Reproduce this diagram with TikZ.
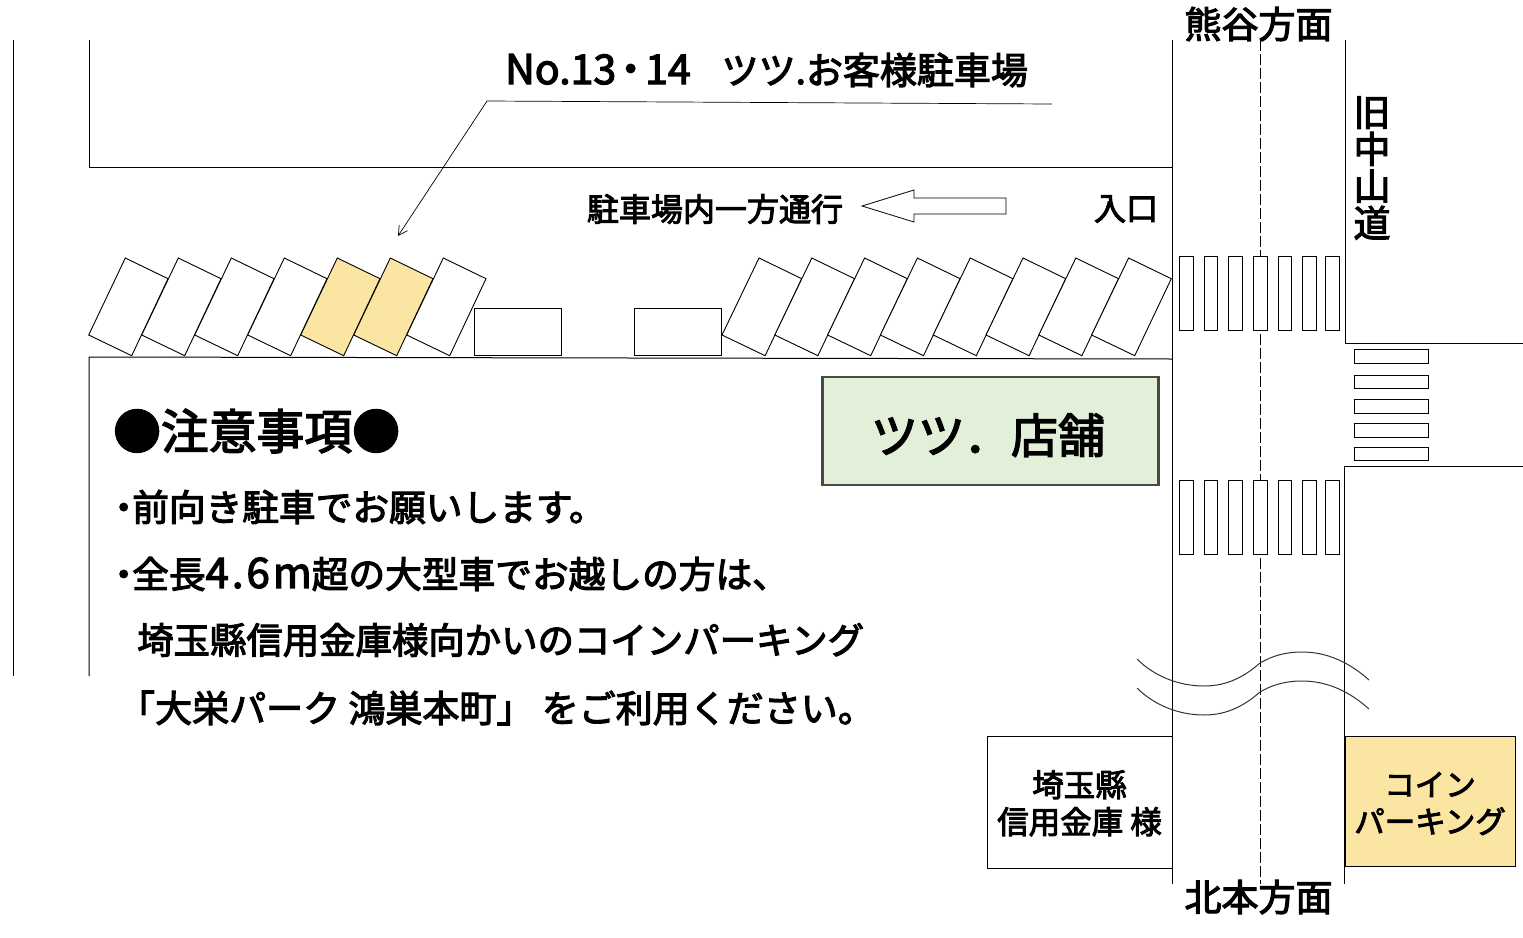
\documentclass[tikz,border=0pt]{standalone}
\usepackage{xcolor}
\usepackage{fontspec}
\usetikzlibrary{arrows.meta,positioning}
\setmainfont[FakeBold=3]{Noto Sans CJK JP}
\definecolor{stallyellow}{RGB}{251,229,163}
\definecolor{shopgreen}{RGB}{226,240,217}
\definecolor{shopedge}{RGB}{70,75,70}
\newcommand{\narrowdot}[1]{\makebox[#1]{・}}
\begin{document}
\begin{tikzpicture}[
    x=1pt, y=-1pt,
    line/.style={line width=1pt, black},
    stall/.style={line width=0.9pt, draw=black, fill=white},
    bar/.style={line width=0.9pt, draw=black, fill=white},
    label/.style={inner sep=0pt, anchor=center, align=center, font=\fontsize{32}{37}\selectfont},
    note/.style={inner sep=0pt, anchor=west, font=\fontsize{36.7}{40}\selectfont}
]
\useasboundingbox (0,0) rectangle (1523,937);

% road and lot outlines
\draw[line] (13,40) -- (13,676);
\draw[line] (89,40) -- (89,167) -- (1172,167);
\draw[line] (89,676) -- (89,357) -- (1172,359);
\draw[line] (1172,40) -- (1172,884);
\draw[line] (1345,40) -- (1345,343) -- (1523,343);
\draw[line] (1523,466) -- (1344,466) -- (1344,884);
\draw[line, dashed, dash pattern=on 11pt off 3pt] (1260,40) -- (1260,884);

% parking stalls
\foreach \i in {0,...,6} {
  \ifnum\i=4 \def\stallfill{stallyellow}\else\ifnum\i=5 \def\stallfill{stallyellow}\else\def\stallfill{white}\fi\fi
  \draw[stall, fill=\stallfill, shift={(53*\i,0)}] (125.3,258) -- (168,278.7) -- (131.7,355.7) -- (88.7,335) -- cycle;
}
\foreach \i in {0,...,7}
  \draw[stall, shift={(52.8*\i,0)}] (759,258) -- (801.7,278.7) -- (765.1,355.7) -- (722,335) -- cycle;
\draw[stall, line width=0.7pt] (474,308) rectangle (561,355);
\draw[stall, line width=0.7pt] (634,308) rectangle (721,355);

% crossings
\foreach \xa/\xb in {1179.5/1193.5,1204.5/1217.5,1228.5/1242.5,1253.5/1267.5,1278.5/1291.5,1302.5/1316.5,1325.5/1339.5} {
  \draw[bar] (\xa,256.5) rectangle (\xb,330.5);
  \draw[bar] (\xa,480.5) rectangle (\xb,554.5);
}
\foreach \ya/\yb in {349.5/363.5,375.5/388.5,399.5/413.5,423.5/437.5,447.5/460.5}
  \draw[bar] (1354.5,\ya) rectangle (1428.5,\yb);

% wave breaks
\foreach \d in {0,29}
  \draw[line width=1pt, black!80, shift={(0,\d)}] (1137,659) .. controls (1155,677) and (1180,686) .. (1204,686)
    .. controls (1228,686) and (1245,676) .. (1260,663) .. controls (1272,656) and (1285,652) .. (1302,652)
    .. controls (1328,652) and (1350,663) .. (1369,680);

% one-way arrow
\draw[line width=0.8pt] (862,206) -- (914,190) -- (914,198) -- (1006,198) -- (1006,214) -- (914,214) -- (914,222) -- cycle;

% boxes
\node[draw=shopedge, line width=2.6pt, fill=shopgreen, inner sep=0pt, minimum width=336pt, minimum height=108pt,
      text height=44pt, text depth=0pt, font=\fontsize{47}{52}\selectfont] (shop) at (990.5,431) {\hspace{-5pt}ツツ．店舗};
\node[draw=black, line width=1pt, fill=white, inner sep=0pt, minimum width=185pt, minimum height=132pt, align=center,
      font=\fontsize{31.5}{37}\selectfont] (bank) at (1079.5,802) {\rule{0pt}{29pt}埼玉縣\\信用金庫 様};
\node[draw=black, line width=1pt, fill=stallyellow, inner sep=0pt, minimum width=170pt, minimum height=130pt, align=center,
      font=\fontsize{30.5}{37}\selectfont] (coin) at (1430,801) {\rule{0pt}{29pt}コイン\\パーキング};

% leader
\coordinate (leadstart) at (1052,104);
\coordinate (leadbend) at (487,101);
\coordinate (leadend) at (398,236);
\draw[line width=0.7pt, -{Straight Barb[length=9pt,width=10pt]}] (leadstart) -- (leadbend) -- (leadend);

% labels
\node[label, anchor=west, font=\fontsize{37}{44}\selectfont] (lotname) at (505,70) {{\fontsize{41}{44}\selectfont No.13\narrowdot{29pt}14}\hspace{31pt}ツツ.お客様駐車場};
\node[label] (oneway) at (715,209) {駐車場内一方通行};
\node[label] (entry) at (1126,209) {入口};
\node[label, font=\fontsize{37}{42}\selectfont] (north) at (1258.5,24) {熊谷方面};
\node[label, font=\fontsize{37}{42}\selectfont] (south) at (1258.5,897) {北本方面};
\node[label, font=\fontsize{37}{37}\selectfont] (oldroad) at (1372,168) {旧\\中\\山\\道};

\node[note, font=\fontsize{47.8}{52}\selectfont] (caution) at (113,431) {●注意事項●};
\node[note] (rule1) at (115,507) {\narrowdot{17pt}前向き駐車でお願いします。};
\node[note] (rule2) at (115,574) {\narrowdot{17pt}全長{\fontsize{42}{40}\selectfont 4\kern3pt.\kern3pt6\kern3pt m}超の大型車でお越しの方は、};
\node[note, font=\fontsize{36.4}{40}\selectfont] (rule3) at (137,640) {埼玉縣信用金庫様向かいのコインパーキング};
\node[note, font=\fontsize{37}{40}\selectfont] (rule4) at (118,708) {「大栄パーク 鴻巣本町」 をご利用ください。};
\end{tikzpicture}
\end{document}
